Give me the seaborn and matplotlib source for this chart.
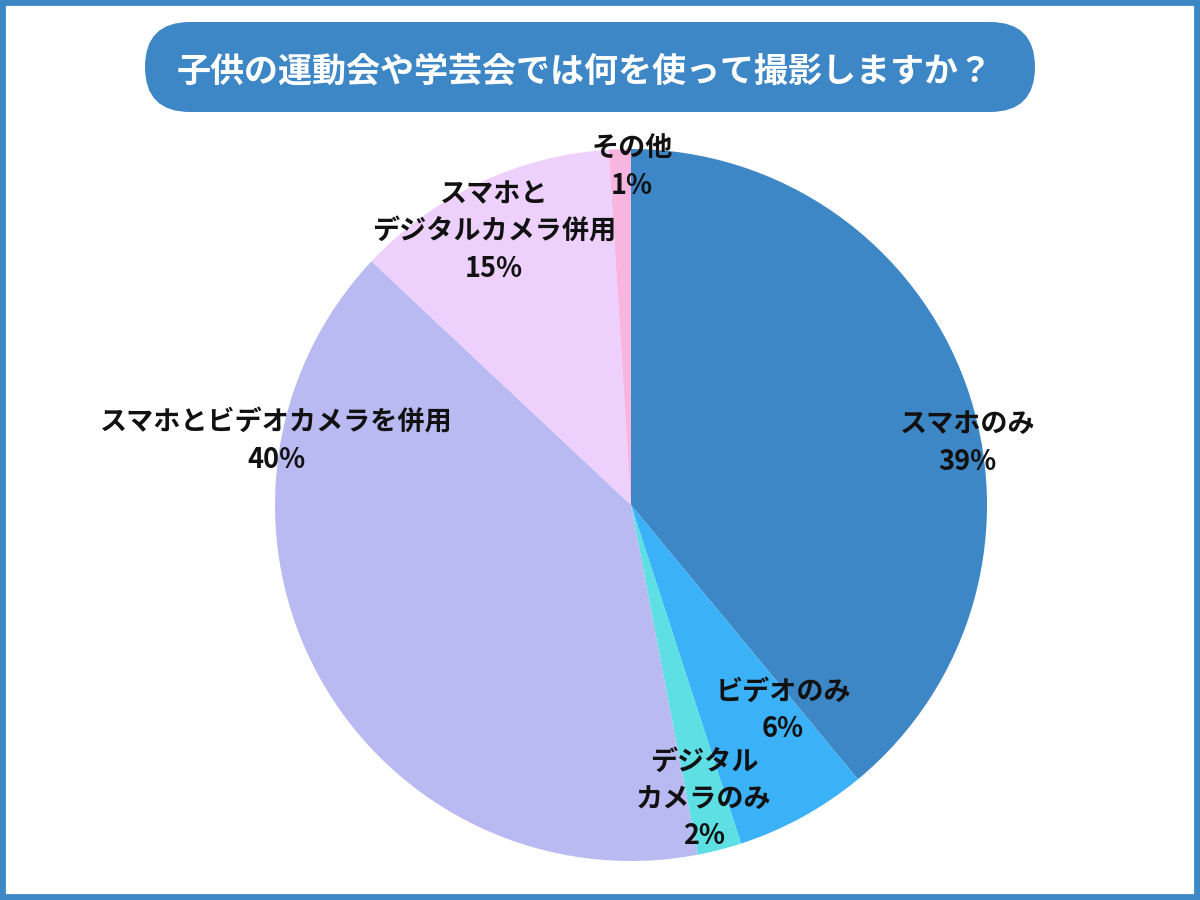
import matplotlib
matplotlib.use("Agg")
import matplotlib.pyplot as plt
from matplotlib.patches import FancyBboxPatch, Rectangle
import seaborn as sns

# ---- data ----
categories = ["スマホのみ", "ビデオのみ", "デジタル\nカメラのみ", "スマホとビデオカメラを併用",
              "スマホと\nデジタルカメラ併用", "その他"]
pct_labels = ["39%", "6%", "2%", "40%", "15%", "1%"]
shares = [39, 6, 2, 40, 12, 1]
colors = ["#3e87c6", "#3bb1f7", "#5ddfe3", "#babaf2", "#eed0fc", "#f8b5df"]
title = "子供の運動会や学芸会では何を使って撮影しますか？"

sns.set_theme(style="white")
plt.rcParams["font.family"] = ["Noto Sans CJK JP", "DejaVu Sans"]

W, H = 1200, 900
fig = plt.figure(figsize=(12, 9), dpi=100)
fig.patch.set_facecolor("white")

# overlay axes in pixel units
ov = fig.add_axes([0, 0, 1, 1])
ov.set_xlim(0, W)
ov.set_ylim(H, 0)
ov.axis("off")
pill = FancyBboxPatch((145, 22), 890, 90,
                      boxstyle="round,pad=0,rounding_size=45",
                      facecolor="#3e87c6", edgecolor="none")
ov.add_patch(pill)
ov.text(585, 71, title, color="white", fontsize=24.5, fontweight="bold",
        ha="center", va="center")
ov.add_patch(Rectangle((0, 0), W, H, fill=False, edgecolor="#3e87c6",
                       linewidth=8.5, clip_on=False))

# pie axes
cx, cy, R = 631, 505, 356
ax = fig.add_axes([(cx - R) / W, (H - cy - R) / H, 2 * R / W, 2 * R / H])
ax.pie(shares, colors=colors, startangle=90, counterclock=False,
       wedgeprops=dict(linewidth=0), radius=1.0)
ax.set_xlim(-1, 1)
ax.set_ylim(-1, 1)
ax.set_aspect("auto")
ax.axis("off")

label_pos = [(0.945, 0.174), (0.427, -0.576), (0.205, -0.826),
             (-0.997, 0.180), (-0.385, 0.767), (0.003, 0.947)]
for cat, pl, (x, y) in zip(categories, pct_labels, label_pos):
    ax.text(x, y, f"{cat}\n{pl}", ha="center", va="center", fontsize=19.5,
            fontweight="bold", color="#111111", linespacing=1.42, clip_on=False)

fig.savefig("out.png", dpi=100, facecolor="white")
